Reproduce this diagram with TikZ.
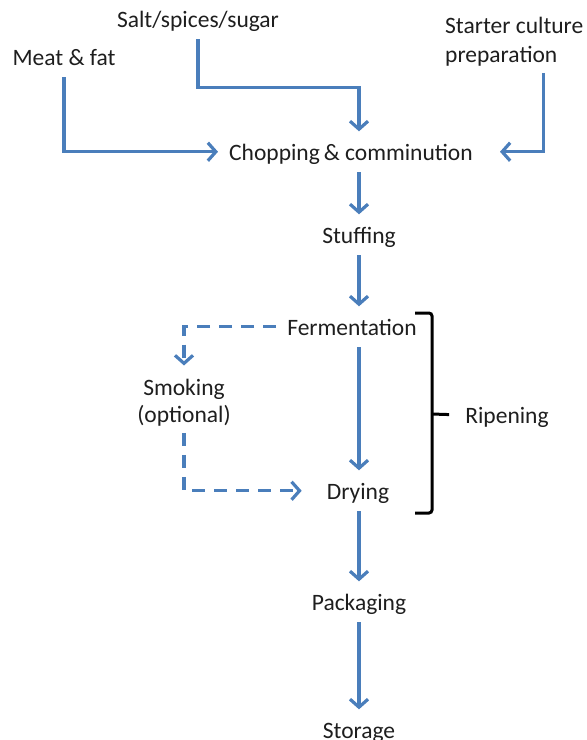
\documentclass[tikz,border=0pt]{standalone}
\usepackage{fontspec}
\setmainfont{Carlito}
\usetikzlibrary{arrows.meta,calc}
\definecolor{flowblue}{RGB}{74,126,187}
\definecolor{ink}{RGB}{30,30,30}
\tikzset{
  >={Straight Barb[length=8pt,width=18pt]},
  txt/.style={text=ink,font=\fontsize{23.5}{27}\selectfont,anchor=base,
    inner xsep=11pt,inner ysep=7pt},
  stage/.style={txt,text height=21.5pt,text depth=5pt},
  flow/.style={->,draw=flowblue,line width=3.2pt},
  optflow/.style={flow,dash pattern=on 13pt off 9pt},
  brace/.style={draw=black,line width=3pt,rounded corners=3pt},
}
\begin{document}
\begin{tikzpicture}[x=1pt,y=-1pt]
  \useasboundingbox (0,0) rectangle (587,740);
  % ingredients
  \node[stage] (meat) at (64,65) {Meat \& fat};
  \node[stage] (salt) at (198,27) {Salt/spices/sugar};
  \node[txt,anchor=base west,align=left,font=\fontsize{23.5}{29}\selectfont] (start) at (434,62) {Starter culture\\preparation};
  % process line
  \node[stage] (chop) at (351,160) {Chopping\,\& comminution};
  \node[stage] (stuf) at (359,243) {Stuffing};
  \node[stage] (ferm) at (352,335) {Fermentation};
  \node[txt,align=center] (smok) at (184,422) {Smoking\\(optional)};
  \node[stage] (dry) at (358,499) {Drying};
  \node[stage] (pack) at (359,610) {Packaging};
  \node[stage] (stor) at (359,738) {Storage};
  \node[stage] (ripe) at (507,423) {Ripening};

  \draw[flow] (meat.south) |- (chop.west);
  \draw[flow] (salt.south) -- ++(0,48) -| (stor.north |- chop.north);
  \draw[flow,shorten >=16pt] ([xshift=-51pt]start.south east) |- (chop.east);
  \foreach \a/\b in {chop/stuf,stuf/ferm,ferm/dry,dry/pack,pack/stor}
    \draw[flow] (\a.south -| stor.north) -- (\b.north -| stor.north);
  \draw[optflow,shorten >=6pt] (ferm.west) -| (smok.north);
  \draw[optflow,shorten >=14pt] (smok.south) |- (dry.west);

  % ripening bracket
  \draw[brace] (415,313) -| (432,513) -- (415,513);
  \draw[brace,shorten >=5pt] (432,414) -- (ripe.west);
\end{tikzpicture}
\end{document}
